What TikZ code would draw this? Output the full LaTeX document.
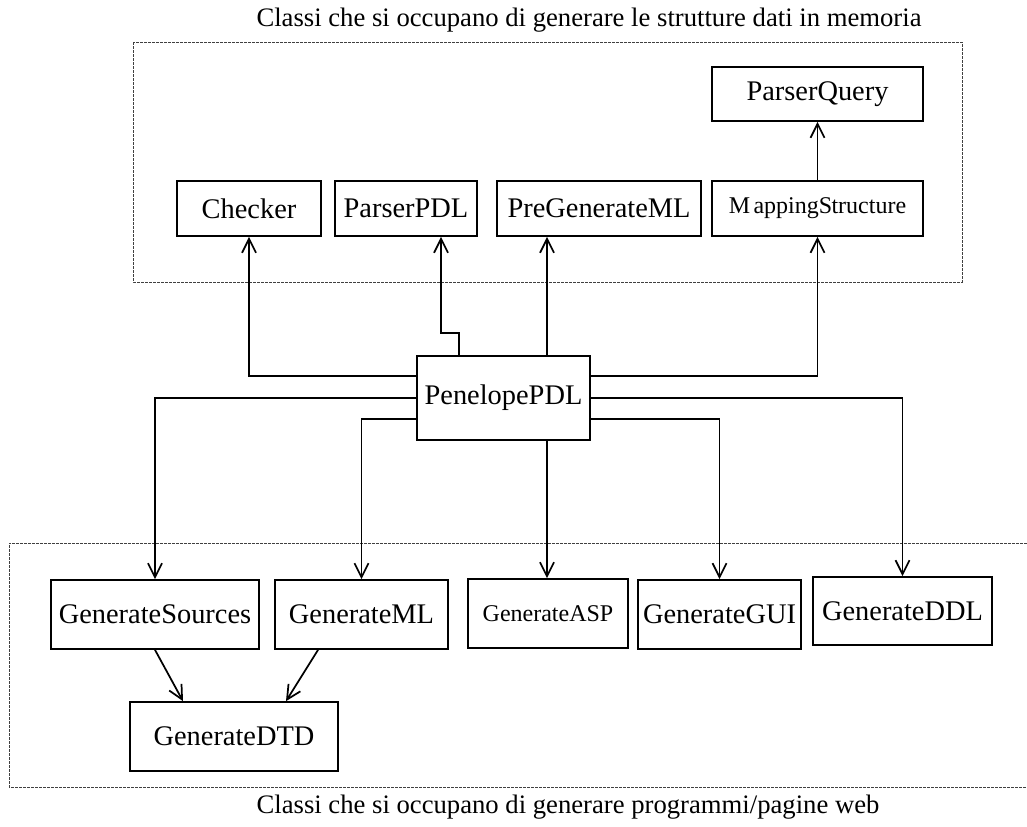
\documentclass[tikz,border=0pt]{standalone}
\usepackage{fontspec}
\setmainfont{Liberation Serif}
\usetikzlibrary{arrows.meta}
\begin{document}
\begin{tikzpicture}[x=0.75pt,y=-0.75pt,
  box/.style={draw, line width=1.3pt, inner sep=0pt, font=\fontsize{21.3}{25}\selectfont},
  smallbox/.style={box, font=\fontsize{18}{21}\selectfont},
  arr/.style={line width=1.3pt, -{Straight Barb[length=10.5pt,width=10.5pt,line width=1.3pt]}},
  group/.style={draw=black!75, line width=0.6pt, dash pattern=on 2pt off 1pt},
  caption/.style={font=\fontsize{20}{24}\selectfont, inner sep=0pt}]
\useasboundingbox (0,0) rectangle (1027,826);

% group frames
\draw[group] (133,42) rectangle (962,282);
\draw[group] (1027,543) -- (9,543) -- (9,787) -- (1027,787);

\node[caption] (ttop) at (589,20) {Classi che si occupano di generare le strutture dati in memoria};
\node[caption] (tbot) at (568,807) {Classi che si occupano di generare programmi/pagine web};

% top boxes
\node[box, minimum width=108pt, minimum height=41.25pt] (checker) at (249,208.5) {Checker};
\node[box, minimum width=106.5pt, minimum height=41.25pt] (ppdl) at (406,208.5) {ParserPDL};
\node[box, minimum width=153pt, minimum height=41.25pt] (pregen) at (599,208.5) {PreGenerateML};
\node[smallbox, minimum width=158.25pt, minimum height=41.25pt] (ms) at (817.5,208.5) {M\kern2.5pt appingS\kern-0.5pt tructure};
\node[box, minimum width=158.25pt, minimum height=40.5pt] (pq) at (817.5,94) {ParserQuery};

% centre
\node[box, minimum width=129.75pt, minimum height=63pt] (pen) at (503.5,398) {PenelopePDL};

% bottom boxes
\node[box, minimum width=156pt, minimum height=51.75pt] (gs) at (155,614.5) {GenerateSources};
\node[box, minimum width=129.75pt, minimum height=51.75pt] (gml) at (361.5,614.5) {GenerateML};
\node[smallbox, minimum width=120pt, minimum height=51.75pt] (gasp) at (548,613.5) {GenerateASP};
\node[box, minimum width=122.25pt, minimum height=51.75pt] (ggui) at (719.5,614.5) {GenerateGUI};
\node[box, minimum width=134.25pt, minimum height=51pt] (gddl) at (902.5,611) {GenerateDDL};
\node[box, minimum width=156pt, minimum height=51.75pt] (dtd) at (234,736.5) {GenerateDTD};

% connectors up
\draw[arr] ([yshift=16.5pt]pen.west) -| (checker.south);
\draw[arr] ([xshift=-33.375pt]pen.north) -- ++(0,-22) -| ([xshift=26.25pt]ppdl.south);
\draw[arr] ([xshift=32.625pt]pen.north) -- ([xshift=32.625pt]pen.north |- pregen.south);
\draw[arr] ([yshift=16.5pt]pen.east) -| (ms.south);
\draw[arr] (ms.north) -- (pq.south);

% connectors down
\draw[arr] (pen.west) -| (gs.north);
\draw[arr] ([yshift=-15.75pt]pen.west) -| (gml.north);
\draw[arr] ([xshift=32.625pt]pen.south) -- ([xshift=32.625pt]pen.south |- gasp.north);
\draw[arr] ([yshift=-15.75pt]pen.east) -| (ggui.north);
\draw[arr] (pen.east) -| (gddl.north);

\draw[arr] (gs.south) -- ([xshift=-38.25pt]dtd.north);
\draw[arr] ([xshift=-32.6pt]gml.south) -- ([xshift=39pt]dtd.north);
\end{tikzpicture}
\end{document}
